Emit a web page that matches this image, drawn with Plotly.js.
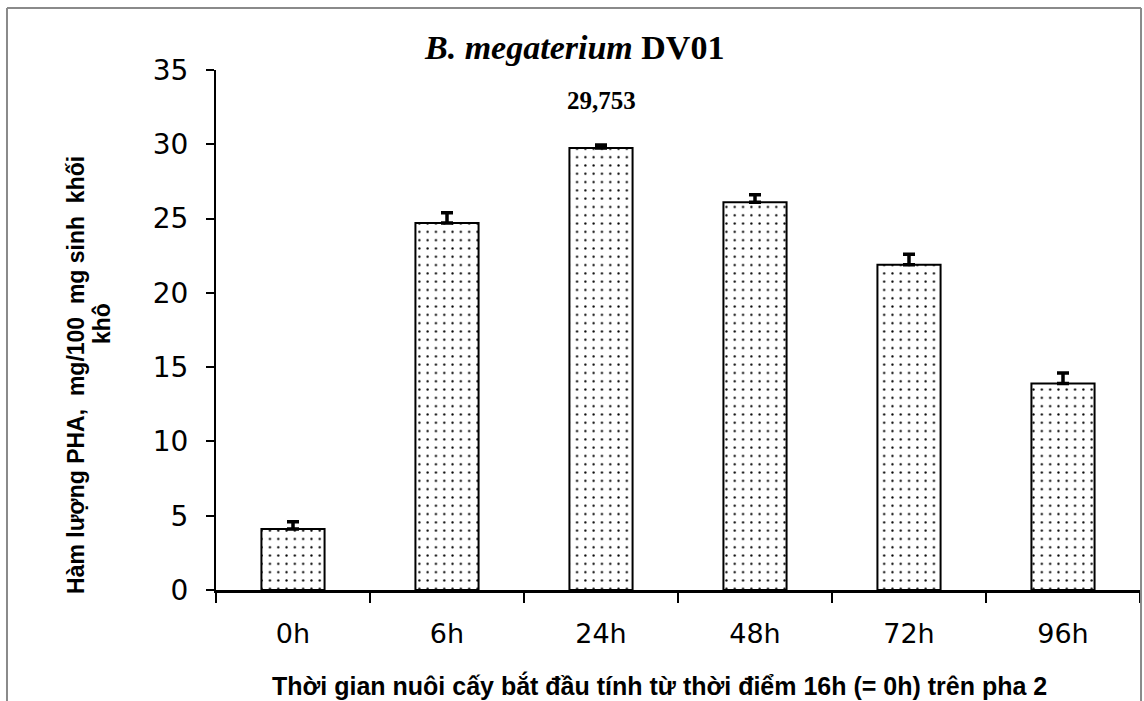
<!DOCTYPE html>
<html>
<head>
<meta charset="utf-8">
<script src="https://cdn.plot.ly/plotly-3.0.1.min.js"></script>
<style>html,body{margin:0;padding:0;background:#fff;}#chart{width:1144px;height:701px;}</style>
</head>
<body>
<div id="chart"></div>
<script>
const categories = ["0h", "6h", "24h", "48h", "72h", "96h"];
const phaValues = [4.1, 24.7, 29.753, 26.1, 21.9, 13.9];
const errorValues = [0.5, 0.7, 0.2, 0.5, 0.7, 0.7];
const yTicks = [0, 5, 10, 15, 20, 25, 30, 35];
const peakLabel = "29,753";
const chartTitle = "<i>B. megaterium</i> DV01";
const yTitleLine1 = "Hàm lượng PHA,  mg/100  mg sinh  khối";
const yTitleLine2 = "khô";
const xTitle = "Thời gian nuôi cấy bắt đầu tính từ thời điểm 16h (= 0h) trên pha 2";

const trace = {
  type: "bar",
  x: categories,
  y: phaValues,
  width: 0.41,
  marker: {
    color: "#ffffff",
    line: {color: "#000000", width: 2},
    pattern: {shape: ".", fgcolor: "#000000", bgcolor: "#ffffff", size: 8.3, solidity: 0.06}
  },
  error_y: {
    type: "data",
    symmetric: false,
    array: errorValues,
    arrayminus: errorValues.map(() => 0),
    visible: true,
    color: "#000000",
    thickness: 3.5,
    width: 6
  },
  hoverinfo: "x+y"
};

const peakIdx = phaValues.indexOf(Math.max(...phaValues));

const layout = {
  width: 1144,
  height: 701,
  paper_bgcolor: "#ffffff",
  plot_bgcolor: "#ffffff",
  showlegend: false,
  margin: {l: 216, r: 4, t: 70, b: 111},
  xaxis: {
    type: "category",
    range: [-0.5, 5.5],
    tickson: "boundaries",
    ticks: "outside",
    ticklen: 10,
    tickwidth: 2.5,
    tickcolor: "#000",
    showline: true,
    linecolor: "#000",
    linewidth: 3,
    showgrid: false,
    zeroline: false,
    tickfont: {family: "DejaVu Sans", size: 27, color: "#000"},
    ticklabelstandoff: 18,
    automargin: false
  },
  yaxis: {
    range: [0, 35],
    tickvals: yTicks,
    ticks: "outside",
    ticklen: 8,
    tickwidth: 2,
    tickcolor: "#000",
    showline: true,
    linecolor: "#000",
    linewidth: 2,
    showgrid: false,
    zeroline: false,
    tickfont: {family: "DejaVu Sans", size: 28, color: "#000"},
    ticklabelstandoff: 12,
    automargin: false
  },
  annotations: [
    {text: "<b>" + chartTitle + "</b>", xref: "paper", yref: "paper", x: 0.3874, y: 1.0, yshift: 23, xanchor: "center", yanchor: "middle",
     showarrow: false, font: {family: "Liberation Serif", size: 34, color: "#000"}},
    {text: "<b>" + peakLabel + "</b>", x: categories[peakIdx], y: phaValues[peakIdx], xref: "x", yref: "y",
     yshift: 47, showarrow: false, xanchor: "center", yanchor: "middle",
     font: {family: "Liberation Serif", size: 25, color: "#000"}},
    {text: "<b>" + yTitleLine1 + "</b>", xref: "paper", yref: "paper", x: 0, xshift: -140, y: 0.4135,
     textangle: -90, showarrow: false, xanchor: "center", yanchor: "middle",
     font: {family: "Liberation Sans", size: 23, color: "#000"}},
    {text: "<b>" + yTitleLine2 + "</b>", xref: "paper", yref: "paper", x: 0, xshift: -114, y: 0.5115,
     textangle: -90, showarrow: false, xanchor: "center", yanchor: "middle",
     font: {family: "Liberation Sans", size: 23, color: "#000"}},
    {text: "<b>" + xTitle + "</b>", xref: "paper", yref: "paper", x: 0.4805, y: 0, yshift: -95,
     showarrow: false, xanchor: "center", yanchor: "middle",
     font: {family: "Liberation Sans", size: 25, color: "#000"}}
  ],
  shapes: [
    {type: "line", xref: "paper", yref: "paper", x0: -0.2262, x1: -0.2262, y0: 1.119, y1: -0.3, line: {color: "#8a8a8a", width: 2}},
    {type: "line", xref: "paper", yref: "paper", x0: -0.2262, x1: 1.0011, y0: 1.119, y1: 1.119, line: {color: "#8a8a8a", width: 2}},
    {type: "line", xref: "paper", yref: "paper", x0: 1.0011, x1: 1.0011, y0: 1.119, y1: -0.3, line: {color: "#8a8a8a", width: 2}}
  ]
};

Plotly.newPlot("chart", [trace], layout, {displayModeBar: false, staticPlot: true});
</script>
</body>
</html>
